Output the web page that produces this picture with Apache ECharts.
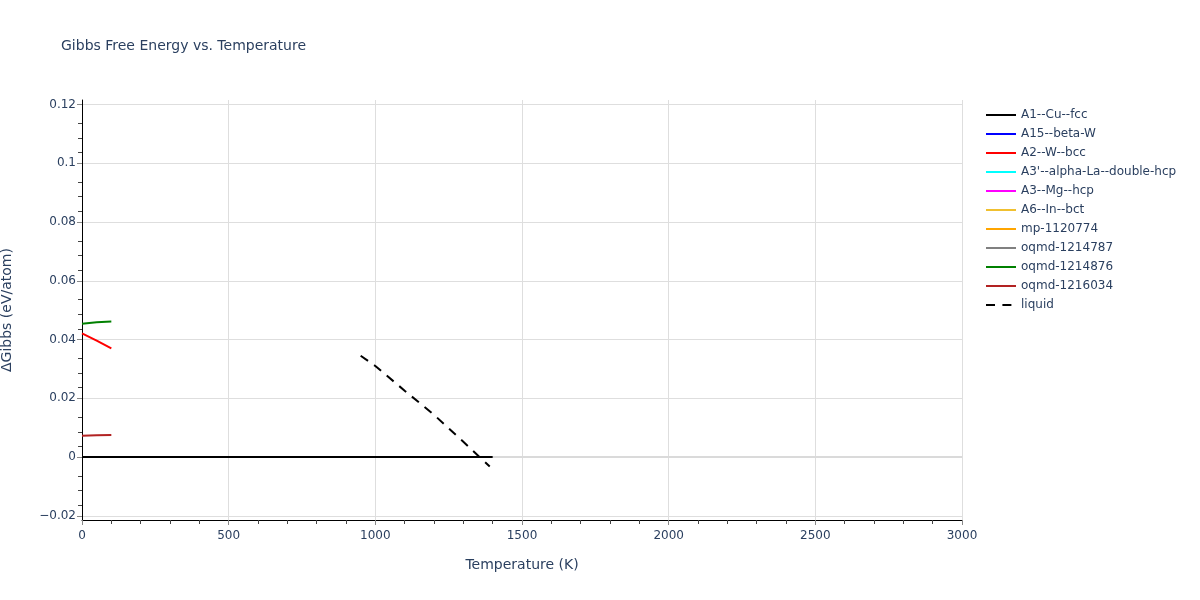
<!DOCTYPE html>
<html>
<head>
<meta charset="utf-8">
<script src="https://cdn.jsdelivr.net/npm/echarts@6/dist/echarts.min.js"></script>
<style>
  html, body { margin: 0; padding: 0; background: #fff; }
  #main { width: 1200px; height: 600px; }
</style>
</head>
<body>
<div id="main"></div>
<script>
// series names, in legend order
var seriesNames = ["A1--Cu--fcc", "A15--beta-W", "A2--W--bcc", "A3'--alpha-La--double-hcp",
    "A3--Mg--hcp", "A6--In--bct", "mp-1120774", "oqmd-1214787", "oqmd-1214876", "oqmd-1216034", "liquid"];
var seriesColors = ["#000000", "#0000ff", "#ff0000", "#00ffff", "#ff00ff", "#f0c030",
    "#ffa500", "#808080", "#008000", "#b22222", "#000000"];

// temperatures (K) and dG values (eV/atom)
var tempA1 = [0, 200, 400, 600, 800, 1000, 1200, 1400];
var dgA1 = [0, 0, 0, 0, 0, 0, 0, 0];
var tempLow = [0, 50, 100];
var dgA2 = [0.0421, 0.0396, 0.0370];
var dg1214876 = [0.0454, 0.0459, 0.0461];
var dg1216034 = [0.0073, 0.0074, 0.0075];
var tempLiquid = [950, 1000, 1100, 1200, 1300, 1390];
var dgLiquid = [0.0345, 0.0310, 0.0226, 0.0144, 0.0052, -0.0032];

// y tick values
var yTicks = [-0.02, 0, 0.02, 0.04, 0.06, 0.08, 0.1, 0.12];

function pairs(xs, ys) {
    let out = [];
    for (let i = 0; i < xs.length; i++) out.push([xs[i], ys[i]]);
    return out;
}

var dataByName = {
    "A1--Cu--fcc": pairs(tempA1, dgA1),
    "A2--W--bcc": pairs(tempLow, dgA2),
    "oqmd-1214876": pairs(tempLow, dg1214876),
    "oqmd-1216034": pairs(tempLow, dg1216034),
    "liquid": pairs(tempLiquid, dgLiquid)
};

var series = seriesNames.map(function (name, i) {
    return {
        name: name,
        type: 'line',
        symbol: 'none',
        data: dataByName[name] || [],
        z: 3,
        lineStyle: { color: seriesColors[i], width: 2, type: name === 'liquid' ? [9, 7.4] : 'solid' },
        itemStyle: { color: seriesColors[i] }
    };
});

// plotly-like zero line, under the data
series.push({
    name: 'zeroline',
    type: 'line',
    symbol: 'none',
    silent: true,
    z: 1,
    data: [[0, 0], [3000, 0]],
    lineStyle: { color: '#dadada', width: 2 }
});

var font = 'DejaVu Sans, sans-serif';
var textColor = '#2a3f5f';

var chart = echarts.init(document.getElementById('main'));
chart.setOption({
    animation: false,
    backgroundColor: '#fff',
    title: {
        text: 'Gibbs Free Energy vs. Temperature',
        left: 56, top: 34,
        textStyle: { fontFamily: font, fontSize: 14, fontWeight: 'normal', color: textColor }
    },
    legend: {
        data: seriesNames,
        orient: 'vertical',
        left: 980, top: 104,
        itemWidth: 30, itemHeight: 14, itemGap: 7,
        itemStyle: { opacity: 0 },
        textStyle: { fontFamily: font, fontSize: 12, color: textColor }
    },
    grid: { left: 82, right: 238, top: 100, bottom: 80, containLabel: false, outerBoundsMode: 'none' },
    xAxis: {
        type: 'value',
        min: 0, max: 3000, interval: 500,
        name: 'Temperature (K)',
        nameLocation: 'middle', nameGap: 38,
        nameTextStyle: { fontFamily: font, fontSize: 14, color: textColor },
        axisLine: { onZero: false, lineStyle: { color: '#000', width: 1 } },
        axisTick: { show: true, length: 5, lineStyle: { color: '#888' } },
        minorTick: { show: true, splitNumber: 5, length: 4, lineStyle: { color: '#444' } },
        axisLabel: {
            fontFamily: font, fontSize: 12, color: textColor, margin: 10,
            formatter: function (v) { return String(v); }
        },
        splitLine: { show: true, lineStyle: { color: '#dedede', width: 1 } }
    },
    yAxis: {
        type: 'value',
        min: -0.0214, max: 0.1215,
        interval: 0.02,
        name: 'ΔGibbs (eV/atom)',
        nameLocation: 'middle', nameGap: 68,
        nameTextStyle: { fontFamily: font, fontSize: 14, color: textColor },
        axisLine: { show: true, lineStyle: { color: '#000', width: 1 } },
        axisTick: { show: true, length: 5, lineStyle: { color: '#888' }, customValues: yTicks },
        minorTick: { show: true, splitNumber: 4, length: 4, lineStyle: { color: '#444' } },
        axisLabel: {
            fontFamily: font, fontSize: 12, color: textColor, margin: 6,
            customValues: yTicks,
            formatter: function (v) { return Math.abs(v) < 1e-9 ? '0' : String(+v.toFixed(3)).replace('-', '−'); }
        },
        splitLine: { show: true, lineStyle: { color: '#dedede', width: 1 } }
    },
    series: series
});
</script>
</body>
</html>
